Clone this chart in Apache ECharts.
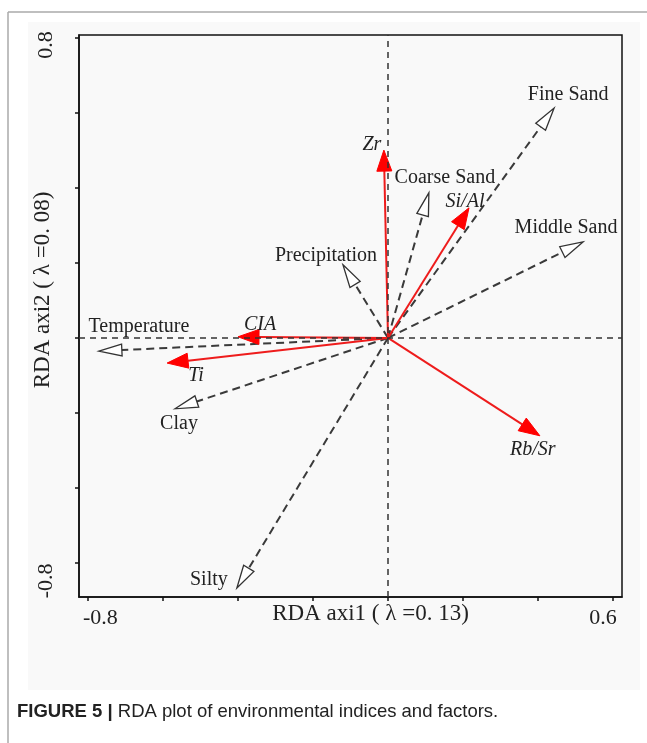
<!DOCTYPE html>
<html>
<head>
<meta charset="utf-8">
<script src="https://cdn.jsdelivr.net/npm/echarts@6/dist/echarts.min.js"></script>
<style>
  html, body { margin: 0; padding: 0; background: #fff; }
  #chart { width: 647px; height: 743px; }
</style>
</head>
<body>
<div id="chart"></div>
<script>
// environmental factors (dashed arrows, open heads)
const envNames = ['Fine Sand', 'Coarse Sand', 'Middle Sand', 'Precipitation', 'Temperature', 'Clay', 'Silty'];
const envAxis1 = [0.443, 0.109, 0.52, -0.12, -0.771, -0.568, -0.403];
const envAxis2 = [0.613, 0.387, 0.256, 0.195, -0.035, -0.189, -0.667];

// geochemical indices (red arrows, filled heads)
const idxNames = ['Zr', 'Si/Al', 'CIA', 'Ti', 'Rb/Sr'];
const idxAxis1 = [-0.011, 0.216, -0.4, -0.589, 0.405];
const idxAxis2 = [0.501, 0.347, 0.003, -0.067, -0.261];

const xTickValues = [-0.8, -0.6, -0.4, -0.2, 0, 0.2, 0.4, 0.6];
const yTickValues = [-0.6, -0.4, -0.2, 0, 0.2, 0.4, 0.6, 0.8];
const xTickLabels = ['-0.8', '0.6'];
const yTickLabels = ['-0.8', '0.8'];

// where each label sits relative to its arrow tip (px)
const labelShift = {
  'Fine Sand': [14, -13], 'Coarse Sand': [16, -15], 'Middle Sand': [-17, -14],
  'Precipitation': [-17, -9], 'Temperature': [40, -24], 'Clay': [4, 15], 'Silty': [-28, -8],
  'Zr': [-12, -5], 'Si/Al': [-4, -6], 'CIA': [22, -12], 'Ti': [29, 13], 'Rb/Sr': [-7, 14]
};

const serif = 'Liberation Serif';

function makeArrow(names, red) {
  return function (params, api) {
    const o = api.coord([0, 0]);
    const p = api.coord([api.value(0), api.value(1)]);
    const dx = p[0] - o[0], dy = p[1] - o[1];
    const len = Math.sqrt(dx * dx + dy * dy);
    const ux = dx / len, uy = dy / len;
    const L = red ? 21 : 23;
    const w = red ? 7.5 : 6;
    const bx = p[0] - ux * L, by = p[1] - uy * L;
    const name = names[params.dataIndex];
    const s = labelShift[name] || [0, 0];
    return {
      type: 'group',
      children: [
        {
          type: 'line',
          shape: { x1: o[0], y1: o[1], x2: bx, y2: by },
          style: red
            ? { stroke: '#ee1c1c', lineWidth: 2 }
            : { stroke: '#3a3a3a', lineWidth: 2, lineDash: [8, 5] }
        },
        {
          type: 'polygon',
          shape: { points: [[p[0], p[1]], [bx - uy * w, by + ux * w], [bx + uy * w, by - ux * w]] },
          style: red
            ? { fill: '#ff0000', stroke: '#ff0000', lineWidth: 1 }
            : { fill: '#fff', stroke: '#333', lineWidth: 1.3 }
        },
        {
          type: 'text',
          x: p[0] + s[0],
          y: p[1] + s[1],
          style: {
            text: name,
            fontFamily: serif,
            fontSize: 20,
            fontStyle: red ? 'italic' : 'normal',
            fill: '#222',
            align: 'center',
            verticalAlign: 'middle'
          }
        }
      ]
    };
  };
}

const chart = echarts.init(document.getElementById('chart'));

chart.setOption({
  animation: false,
  backgroundColor: '#fff',
  graphic: [
    { type: 'rect', z: -10, shape: { x: 28, y: 22, width: 612, height: 668 }, style: { fill: '#f9f9f9' } },
    { type: 'line', shape: { x1: 8, y1: 12, x2: 647, y2: 12 }, style: { stroke: '#aaa', lineWidth: 1.5 } },
    { type: 'line', shape: { x1: 8, y1: 12, x2: 8, y2: 743 }, style: { stroke: '#aaa', lineWidth: 1.5 } },
    {
      type: 'text', left: 17, top: 702,
      style: {
        text: '{b|FIGURE 5 |} RDA plot of environmental indices and factors.',
        fontFamily: 'Liberation Sans', fontSize: 18.5, fill: '#222',
        rich: { b: { fontFamily: 'Liberation Sans', fontSize: 18.5, fontWeight: 'bold', fill: '#222' } }
      }
    }
  ],
  grid: {
    left: 79, top: 35, right: 25, bottom: 146,
    show: true, borderColor: '#111', borderWidth: 1.5
  },
  xAxis: {
    type: 'value', min: -0.824, max: 0.624,
    name: 'RDA axi1 ( λ =0. 13)', nameLocation: 'middle', nameGap: 5, nameMoveOverlap: false,
    nameTextStyle: { fontFamily: serif, fontSize: 23, color: '#222', padding: [0, 0, 0, 40] },
    axisLine: { onZero: false, lineStyle: { color: '#111', width: 1.5 } },
    axisTick: { customValues: xTickValues, length: 4, lineStyle: { color: '#111', width: 1.5 } },
    axisLabel: {
      customValues: [-0.767, 0.573], formatter: v => (v < 0 ? xTickLabels[0] : xTickLabels[1]),
      fontFamily: serif, fontSize: 22, color: '#222', margin: 10
    },
    splitLine: { show: false }
  },
  yAxis: {
    type: 'value', min: -0.691, max: 0.808,
    name: 'RDA axi2 ( λ =0. 08)', nameLocation: 'middle', nameGap: 25, nameMoveOverlap: false,
    nameTextStyle: { fontFamily: serif, fontSize: 23, color: '#222', padding: [0, 0, 0, 52] },
    axisLine: { onZero: false, lineStyle: { color: '#111', width: 1.5 } },
    axisTick: { customValues: yTickValues, length: 4, lineStyle: { color: '#111', width: 1.5 } },
    axisLabel: {
      customValues: [-0.648, 0.781], formatter: v => (v < 0 ? yTickLabels[0] : yTickLabels[1]),
      rotate: 90, fontFamily: serif, fontSize: 22, color: '#222', margin: 22
    },
    splitLine: { show: false }
  },
  series: [
    {
      name: 'factors',
      type: 'custom',
      clip: false,
      renderItem: makeArrow(envNames, false),
      data: envNames.map((n, i) => [envAxis1[i], envAxis2[i]]),
      markLine: {
        silent: true,
        symbol: ['none', 'none'],
        label: { show: false },
        lineStyle: { type: [6, 5], color: '#333', width: 1.5 },
        data: [{ xAxis: 0 }, { yAxis: 0 }]
      },
      z: 2
    },
    {
      name: 'indices',
      type: 'custom',
      clip: false,
      renderItem: makeArrow(idxNames, true),
      data: idxNames.map((n, i) => [idxAxis1[i], idxAxis2[i]]),
      z: 3
    }
  ]
});
</script>
</body>
</html>
